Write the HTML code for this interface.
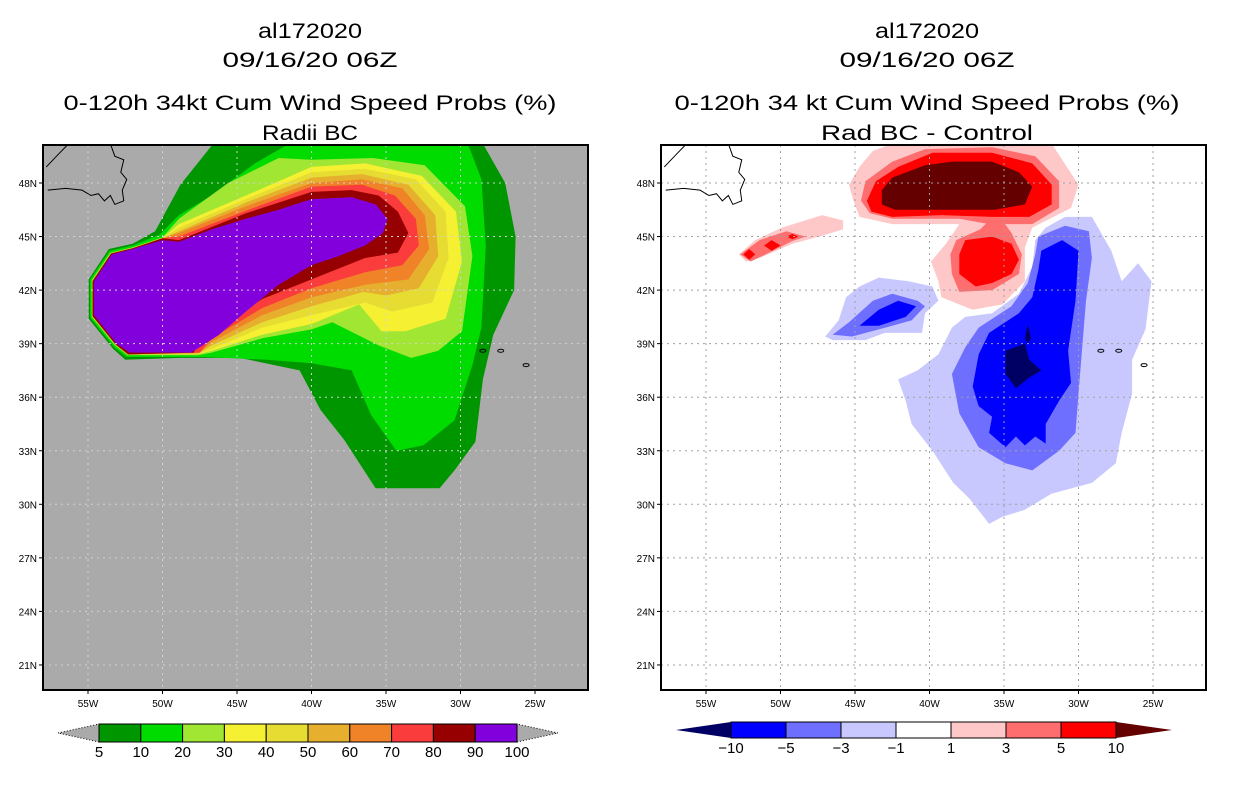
<!DOCTYPE html>
<html><head><meta charset="utf-8">
<style>
html,body{margin:0;padding:0;background:#fff;}
svg{display:block;font-family:"Liberation Sans",sans-serif;}
</style></head>
<body>
<svg id="root" width="1236" height="800" viewBox="0 0 1236 800" xmlns="http://www.w3.org/2000/svg">
<defs>
<clipPath id="clipL"><rect x="43" y="145" width="545" height="545"/></clipPath>
<clipPath id="clipR"><rect x="661" y="145" width="545" height="545"/></clipPath>
</defs>
<g font-size="21" text-anchor="middle" fill="#000">
<text x="310" y="38" textLength="104" lengthAdjust="spacingAndGlyphs">al172020</text>
<text x="310" y="67" textLength="175" lengthAdjust="spacingAndGlyphs">09/16/20 06Z</text>
<text x="310" y="110" textLength="493" lengthAdjust="spacingAndGlyphs">0-120h 34kt Cum Wind Speed Probs (%)</text>
<text x="310" y="140" textLength="96" lengthAdjust="spacingAndGlyphs">Radii BC</text>
</g>
<g font-size="21" text-anchor="middle" fill="#000">
<text x="927" y="38" textLength="104" lengthAdjust="spacingAndGlyphs">al172020</text>
<text x="927" y="67" textLength="175" lengthAdjust="spacingAndGlyphs">09/16/20 06Z</text>
<text x="927" y="110" textLength="505" lengthAdjust="spacingAndGlyphs">0-120h 34 kt Cum Wind Speed Probs (%)</text>
<text x="927" y="140" textLength="212" lengthAdjust="spacingAndGlyphs">Rad BC - Control</text>
</g>
<g id="panelL"></g>
<g id="panelR"></g>
<g id="cbarL"></g>
<g id="cbarR"></g>
</svg>
<script>
// ---- data ----
const lonTicks = [-55,-50,-45,-40,-35,-30,-25];
const latTicks = [21,24,27,30,33,36,39,42,45,48];
const probLevels = [5,10,20,30,40,50,60,70,80,90,100];
const probColors = ["#009600","#00dc00","#a0e632","#f5f032","#e6dc32","#e6af2d","#f08228","#fa3c3c","#960000","#8200dc"];
const diffLevels = [-10,-5,-3,-1,1,3,5,10];
const diffColors = ["#000064","#0000ff","#6e6eff","#c8c8ff","#ffffff","#ffc8c8","#ff6e6e","#ff0000","#640000"];
// left panel contours (lon, lat)
const p5 = [[-48.8,47.9],[-46.6,50.2],[-28.5,50.2],[-27,48],[-26.3,45],[-26.4,42],[-27.8,39.5],[-28.5,37],[-29,33.5],[-30.4,31.9],[-31.4,30.9],[-35.7,30.9],[-37.8,33.6],[-39.4,35.3],[-40.8,37.5],[-44.8,38.2],[-48.8,38.2],[-52.5,38.1],[-53.3,38.7],[-54.95,40.4],[-54.95,42.6],[-53.6,44.3],[-52,44.6],[-50.5,45.3]];
const p10 = [[-48.9,46.2],[-46.7,47.3],[-43.8,49.1],[-41.5,50.2],[-29.5,50.2],[-28.6,48.2],[-28.3,44.5],[-28.6,39.9],[-29.2,37.8],[-30.4,34.7],[-32.5,33.3],[-34.3,33],[-36,35],[-37.3,37.5],[-40,37.9],[-43,38.1],[-47.2,38.25],[-52.4,38.25],[-53.25,38.8],[-54.85,40.45],[-54.85,42.6],[-53.55,44.2],[-52,44.5],[-50.2,45.1]];
const p20 = [[-48.9,46],[-45.6,48],[-42.2,49.4],[-40,49.3],[-35.9,49.4],[-32.4,49],[-29.7,46.7],[-29.2,43.9],[-29.9,39.7],[-31.5,38.6],[-33.3,38.2],[-35.5,38.9],[-38.6,40.2],[-40,39.8],[-43.3,39.3],[-46.7,38.5],[-47.6,38.35],[-52.35,38.35],[-53.2,38.9],[-54.75,40.5],[-54.75,42.55],[-53.5,44.1],[-52,44.4],[-50,44.95]];
const innerTail = [[-52.3,38.4],[-53.15,38.95],[-54.7,40.55],[-54.7,42.5],[-53.45,44.05],[-52,44.35],[-50,44.9]];
const p30 = [[-48.9,45.7],[-44.4,47.3],[-40,48.9],[-36.4,49.1],[-32.6,48.4],[-30.3,46.4],[-29.9,43.6],[-31,40.4],[-33.7,39.7],[-35.3,39.7],[-36.8,41.2],[-40,40.1],[-43.3,39.5],[-46.7,38.6],[-47.7,38.4]];
const p40 = [[-48.9,45.5],[-44.4,47.1],[-40,48.6],[-36.4,48.8],[-33,48.2],[-31,46.4],[-30.8,43.8],[-31.9,41.3],[-34.6,40.8],[-36.4,41.3],[-40,40.6],[-43.3,39.9],[-46.7,38.7],[-47.7,38.4]];
const p50 = [[-48.9,45.3],[-44.4,46.9],[-40,48.3],[-36.6,48.5],[-33.5,47.9],[-31.7,46.2],[-31.5,43.9],[-32.8,42.1],[-35,41.7],[-36.5,41.9],[-40,41.1],[-43.3,40.2],[-46.7,38.9],[-47.6,38.45]];
const p60 = [[-48.9,45.2],[-44.4,46.7],[-40,48],[-36.6,48.2],[-33.9,47.7],[-32.4,46.2],[-32.1,44.3],[-33.5,42.6],[-36.4,42.3],[-40,41.6],[-43.3,40.6],[-46.7,39.1],[-47.5,38.5]];
const p70 = [[-48.9,45],[-44.4,46.45],[-40,47.8],[-36.6,47.9],[-34.4,47.3],[-33,46],[-32.8,44.5],[-33.9,43.4],[-36.4,43],[-40,42.1],[-43.3,41],[-46.7,39.3],[-47.5,38.5]];
const p80 = [[-48.9,44.8],[-44.4,46.3],[-40,47.5],[-37.3,47.6],[-35.5,47.3],[-34.2,46.4],[-33.5,45.2],[-34.2,44.1],[-36.4,43.8],[-40,42.6],[-43.3,41.5],[-46.7,39.7],[-47.6,39.1],[-47.9,38.5]];
const p90 = [[-54.6,40.6],[-54.6,42.5],[-53.4,44],[-52,44.3],[-50,44.8],[-48.9,44.7],[-46.7,45.4],[-44.4,46],[-42.2,46.5],[-40,47.1],[-37.3,47.2],[-35.7,46.8],[-34.9,46],[-35.2,45.2],[-36.4,44.5],[-38.2,43.9],[-40,43.4],[-42.2,42.3],[-44.4,40.8],[-46.2,39.5],[-47.3,38.9],[-48.1,38.5],[-52.2,38.5],[-53.1,39]];
// right panel (difference) contours
const dPink1 = [[-45.4,47.9],[-44.7,48.9],[-43.8,49.8],[-42.5,50.2],[-31.8,50.2],[-30,47.9],[-30.5,46.6],[-33.1,45.5],[-33.6,44.4],[-33.6,42.5],[-35.1,41.2],[-37.1,40.9],[-39.2,41.6],[-39.4,42.5],[-39.9,43.6],[-38.9,44.6],[-38,45.7],[-42.5,45.7],[-44.7,46.1],[-45.1,47]];
const dPink1b = [[-52.8,44],[-51.7,44.8],[-49.9,45.5],[-47.2,46.2],[-45.8,45.9],[-45.8,45.4],[-47.4,45],[-49.2,44.6],[-51.4,43.8],[-52.3,43.6]];
const dPink3a = [[-44.6,47],[-44.3,48.1],[-42.5,49.2],[-40.3,49.9],[-35.8,50],[-32.9,49.5],[-31.3,48.1],[-31.3,46.6],[-33.1,45.7],[-35.1,45.7],[-36,45.7],[-38,46],[-42.5,46],[-44,46.3]];
const dPink3b = [[-38.6,44],[-38.2,44.8],[-36.6,45.4],[-36,45.9],[-35.1,45.9],[-34.5,45.2],[-33.8,44],[-34,42.9],[-35.8,42],[-38,41.9],[-38.5,42.9]];
const dPink3c = [[-52.7,44],[-51.4,44.8],[-49.6,45.3],[-48.3,45],[-49.2,44.75],[-50.5,44.2],[-52,43.6]];
const dRed5a = [[-44.2,47],[-43.6,48.1],[-42.1,48.9],[-39.8,49.7],[-35.8,49.7],[-33.1,49.1],[-31.8,47.9],[-31.8,46.8],[-33.3,46.1],[-35.8,46.1],[-39.2,46.2],[-42.5,46.1],[-43.9,46.4]];
const dRed5b = [[-38,44],[-37.6,44.8],[-35.8,45],[-34.5,44.6],[-34,43.7],[-34.5,42.9],[-35.8,42.4],[-36.9,42.2],[-38,42.9]];
const dRed5c = [[-52.5,44],[-52.1,44.3],[-51.7,44],[-52.1,43.7]];
const dRed5d = [[-51.1,44.5],[-50.6,44.8],[-50,44.5],[-50.6,44.2]];
const dRed5e = [[-49.6,45],[-49.2,45.15],[-48.8,45],[-49.2,44.85]];
const dDark10 = [[-43.2,47.6],[-42.5,48.3],[-40.3,49],[-38.5,49.2],[-35.8,49.2],[-34,48.6],[-33.1,47.8],[-33.6,46.8],[-35.6,46.5],[-38,46.5],[-39.8,46.5],[-42.3,46.5],[-43.2,46.8]];
const dBlue1a = [[-47,39.4],[-46.1,40.3],[-45.6,41.6],[-44.7,42.2],[-43.4,42.7],[-41.4,42.5],[-39.8,42.2],[-39.4,41.4],[-40.3,40.7],[-40.5,39.6],[-43,39.6],[-44.3,39.2],[-46.5,39.2]];
const dBlue3a = [[-46.5,39.5],[-45.4,40.2],[-43.8,41.4],[-42.5,41.8],[-40.8,41.4],[-40.3,41.1],[-41.2,40.3],[-43.4,39.8],[-45.2,39.4]];
const dBlue5a = [[-44.7,40],[-43.4,40.9],[-42.1,41.4],[-40.9,41.1],[-41.6,40.5],[-43.4,40]];
const dBlue1b = [[-32.2,45.5],[-30.9,46.1],[-29.1,46.1],[-27.8,44.2],[-27.1,42.5],[-26,43.5],[-25.1,42.5],[-25.5,39.8],[-26.4,38.1],[-26.4,36.2],[-27.1,34],[-27.5,32.3],[-29.1,31.2],[-31.8,30.6],[-33.6,29.7],[-35.1,29.3],[-36,28.9],[-37.3,30.3],[-38.4,31.2],[-39.8,33],[-41.2,34.5],[-41.6,35.8],[-42.1,37],[-40.8,37.5],[-39.4,38.4],[-38.5,39.9],[-37.6,40.5],[-35.8,40.7],[-34,41.8],[-33.1,43.3],[-32.9,44.8]];
const dBlue3b = [[-32.7,45],[-30.9,45.6],[-29.3,45.3],[-29.1,43.8],[-29.5,41.4],[-29.8,38.3],[-30,36.2],[-30.2,34],[-31.3,33],[-33.1,31.9],[-34.9,32.3],[-36.7,33.2],[-38,35.1],[-38.5,37.3],[-37.6,38.8],[-36.7,39.9],[-34.5,41.1],[-33.4,42.4],[-32.9,44]];
const dBlue5b = [[-32.5,44.2],[-31.1,44.8],[-30,44.2],[-30.2,41.4],[-30.7,38.6],[-30.5,36.8],[-31.3,35.8],[-32.2,34.5],[-32.2,33.4],[-32.9,33.8],[-33.6,33.3],[-34.2,33.8],[-34.9,33.2],[-36,34],[-35.8,34.9],[-36.7,35.5],[-37.1,36.6],[-36.7,38.4],[-36,39.6],[-34,40.7],[-33.1,41.6],[-32.7,43.1]];
const dNavy = [[-34.9,38.6],[-33.6,39],[-33.3,38.1],[-32.5,37.5],[-33.3,37.1],[-34.2,36.5],[-34.9,37.3]];
const dNavy2 = [[-33.4,40.1],[-33.2,39.3],[-33.4,39],[-33.6,39.3]];
// coastlines
const coastNF = [[-53.5,50.2],[-53.2,49.5],[-52.6,49.3],[-52.8,48.6],[-52.4,48.2],[-52.7,47.6],[-52.6,47],[-53.2,46.8],[-53.5,47.3],[-53.9,47.0],[-54.3,47.4],[-54.8,47.3],[-55.4,47.6],[-56.5,47.7],[-57.7,47.6]];
const coastNS = [[-57.8,48.9],[-57.0,49.6],[-56.3,50.2]];
const azores = [[-28.5,38.6],[-27.3,38.6],[-25.6,37.8]];

function mk(tag, attrs, parent){const e=document.createElementNS("http://www.w3.org/2000/svg",tag);for(const k in attrs)e.setAttribute(k,attrs[k]);parent.appendChild(e);return e;}

function makePanel(gid, x0, clipId, bg, gridColor, layers, side){
  const g=document.getElementById(gid);
  const X0=x0, Y0=145, W=545, H=545;
  const xS = lon => X0 + 45 + (lon + 55) * 14.9;
  const yS = lat => 183 + (48 - lat) * 17.85;
  const r=mk("rect",{x:X0,y:Y0,width:W,height:H,fill:bg},g);
  
  
  const cg=mk("g",{"clip-path":"url(#"+clipId+")"},g);
  
  
  layers.forEach(([pts,col,name])=>{
    const p=mk("polygon",{points:pts.map(q=>xS(q[0]).toFixed(1)+","+yS(q[1]).toFixed(1)).join(" "),fill:col},cg);
    
    
  });
  const gg=mk("g",{stroke:gridColor,"stroke-width":1,"stroke-dasharray":"2,4"},cg);
  
  
  lonTicks.forEach(l=>mk("line",{x1:xS(l),x2:xS(l),y1:Y0,y2:Y0+H},gg));
  latTicks.forEach(l=>mk("line",{x1:X0,x2:X0+W,y1:yS(l),y2:yS(l)},gg));
  const cst=mk("g",{fill:"none",stroke:"#000","stroke-width":1},cg);
  
  
  [coastNF,coastNS].forEach(c=>mk("polyline",{points:c.map(q=>xS(q[0])+","+yS(q[1])).join(" ")},cst));
  azores.forEach(a=>mk("ellipse",{cx:xS(a[0]),cy:yS(a[1]),rx:3,ry:1.5},cst));
  const fr=mk("rect",{x:X0,y:Y0,width:W,height:H,fill:"none",stroke:"#000","stroke-width":2},g);
  
  
  const tg=mk("g",{"font-size":10,fill:"#000"},g);
  
  
  lonTicks.forEach(l=>{
    mk("line",{x1:xS(l),x2:xS(l),y1:Y0+H,y2:Y0+H+4,stroke:"#000"},g);
    const t=mk("text",{x:xS(l),y:Y0+H+17,"text-anchor":"middle"},tg);
    t.textContent=Math.abs(l)+"W";
    
    
  });
  latTicks.forEach(l=>{
    mk("line",{x1:X0-4,x2:X0,y1:yS(l),y2:yS(l),stroke:"#000"},g);
    const t=mk("text",{x:X0-6,y:yS(l)+4,"text-anchor":"end"},tg);
    t.textContent=l+"N";
    
    
  });
}

makePanel("panelL",43,"clipL","#aaaaaa","#d2d2d2",[
 [p5,probColors[0],"prob-5"],[p10,probColors[1],"prob-10"],[p20,probColors[2],"prob-20"],
 [p30.concat(innerTail),probColors[3],"prob-30"],[p40.concat(innerTail),probColors[4],"prob-40"],
 [p50.concat(innerTail),probColors[5],"prob-50"],[p60.concat(innerTail),probColors[6],"prob-60"],
 [p70.concat(innerTail),probColors[7],"prob-70"],[p80.concat(innerTail),probColors[8],"prob-80"],
 [p90,probColors[9],"prob-90"]],"left");

makePanel("panelR",661,"clipR","#ffffff","#a0a0a0",[
 [dPink1,diffColors[5],"diff-pos-1"],[dPink1b,diffColors[5],"diff-pos-1-streak"],
 [dPink3a,diffColors[6],"diff-pos-3-north"],[dPink3b,diffColors[6],"diff-pos-3-center"],[dPink3c,diffColors[6],"diff-pos-3-streak"],
 [dRed5a,diffColors[7],"diff-pos-5-north"],[dRed5b,diffColors[7],"diff-pos-5-center"],[dRed5c,diffColors[7],"diff-pos-5-spot"],[dRed5d,diffColors[7],"diff-pos-5-spot"],[dRed5e,diffColors[7],"diff-pos-5-spot"],
 [dDark10,diffColors[8],"diff-pos-10"],
 [dBlue1a,diffColors[3],"diff-neg-1-west"],[dBlue3a,diffColors[2],"diff-neg-3-west"],[dBlue5a,diffColors[1],"diff-neg-5-west"],
 [dBlue1b,diffColors[3],"diff-neg-1-east"],[dBlue3b,diffColors[2],"diff-neg-3-east"],[dBlue5b,diffColors[1],"diff-neg-5-east"],
 [dNavy,diffColors[0],"diff-neg-10"],[dNavy2,diffColors[0],"diff-neg-10-spike"]],"right");

function colorbar(gid, x0, x1, tipL, tipR, y0, y1, levels, colors, leftTipColor, rightTipColor, labelLevels, side){
  const g=document.getElementById(gid);
  const n=colors.length;
  const w=(x1-x0)/n;
  const ym=(y0+y1)/2;
  const tl=mk("polygon",{points:`${tipL},${ym} ${x0},${y0} ${x0},${y1}`,fill:leftTipColor,stroke:side==="left"?"#000":"none","stroke-dasharray":"1,2","stroke-width":1},g);
  
  
  const tr=mk("polygon",{points:`${tipR},${ym} ${x1},${y0} ${x1},${y1}`,fill:rightTipColor,stroke:side==="left"?"#000":"none","stroke-dasharray":"1,2","stroke-width":1},g);
  
  
  colors.forEach((c,i)=>{
    const r=mk("rect",{x:x0+i*w,y:y0,width:w,height:y1-y0,fill:c,stroke:"#000","stroke-width":1},g);
    
    
  });
  labelLevels.forEach((v,i)=>{
    const t=mk("text",{x:x0+i*w,y:y1+15,"text-anchor":"middle","font-size":15,fill:"#000"},g);
    t.textContent=String(v).replace("-","\u2212");
    
    
  });
}
colorbar("cbarL",99,517,58,558,724,742,probLevels,probColors,"#aaaaaa","#aaaaaa",probLevels,"left");
colorbar("cbarR",731,1116,676,1172,722,738,diffLevels,diffColors.slice(1,8),diffColors[0],diffColors[8],diffLevels,"right");
</script>
</body></html>
